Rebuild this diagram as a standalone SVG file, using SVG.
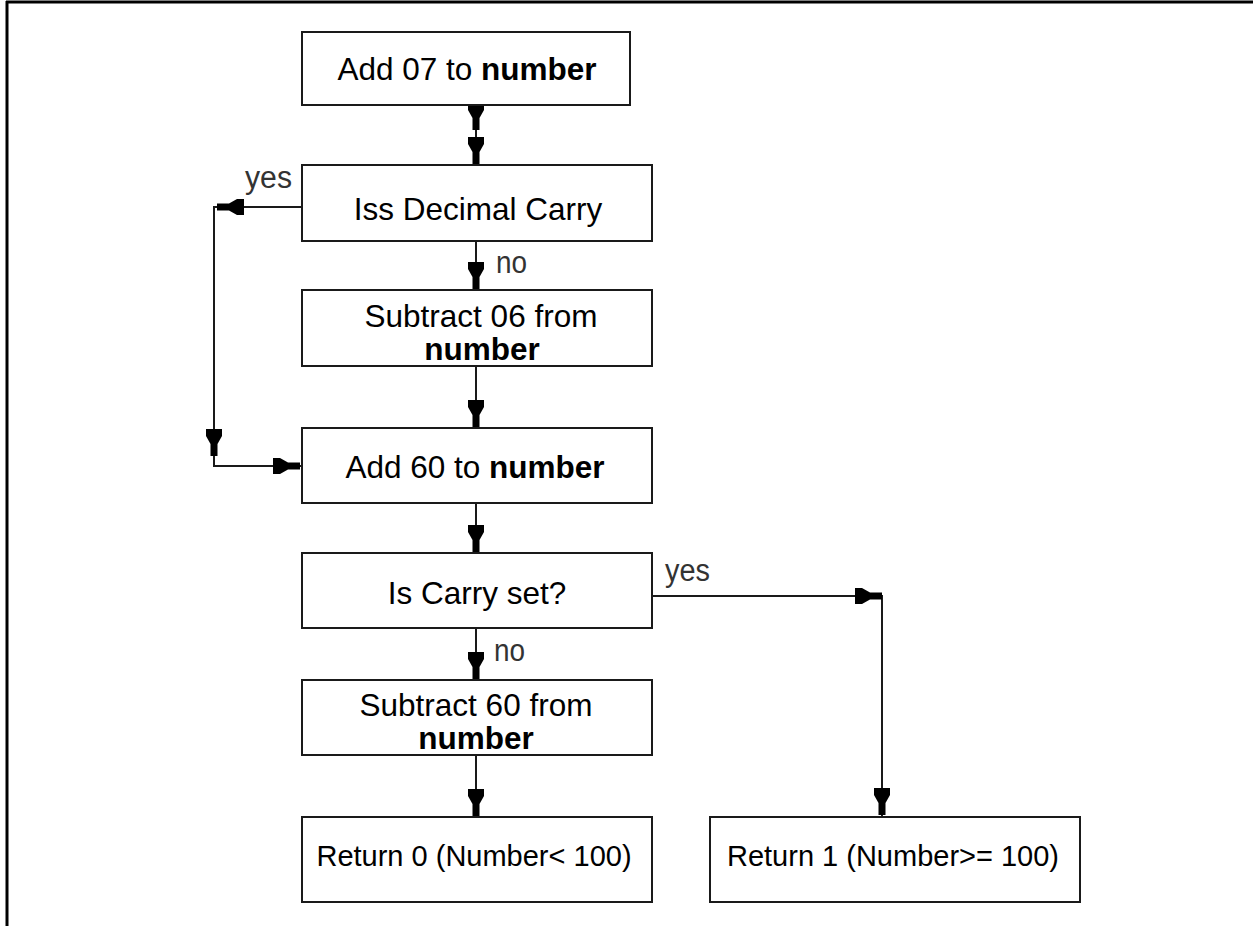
<svg xmlns="http://www.w3.org/2000/svg" xmlns:xlink="http://www.w3.org/1999/xlink" width="1253" height="926" viewBox="0 0 1253 926">
<style>
.box{fill:#fff;stroke:#1a1a1a;stroke-width:2}
.t{font-family:"Liberation Sans",Arial,sans-serif;font-size:31.5px;fill:#000;text-anchor:middle}
.r{font-family:"Liberation Sans",Arial,sans-serif;font-size:29px;fill:#000;text-anchor:middle}
.b{font-weight:bold}
.lbl{font-family:"Liberation Sans",Arial,sans-serif;font-size:31px;fill:#333}
.conn{fill:none;stroke:#1a1a1a;stroke-width:2}
.ah{fill:#000}
</style>
<defs>
<path id="ah" class="ah" d="M -27 -8 L -20 -8 L -12 -3.5 L 0 -3.5 L 0 3.5 L -12 3.5 L -20 8 L -27 8 Z"/>
</defs>
<rect x="0" y="0" width="1253" height="926" fill="#fff"/>
<g id="frame">
<line x1="6" y1="2" x2="1253" y2="2" stroke="#000" stroke-width="3"/>
<line x1="7" y1="1" x2="7" y2="926" stroke="#000" stroke-width="3"/>
</g>
<g id="connectors">
<path class="conn" d="M476,105 V165"/>
<path class="conn" d="M476,241 V290"/>
<path class="conn" d="M476,366 V428"/>
<path class="conn" d="M476,503 V553"/>
<path class="conn" d="M476,628 V680"/>
<path class="conn" d="M476,755 V817"/>
<path class="conn" d="M302,207 H214 V466 H302"/>
<path class="conn" d="M652,596 H882 V817"/>
<use xlink:href="#ah" transform="translate(476,130) rotate(90)"/>
<use xlink:href="#ah" transform="translate(476,164) rotate(90)"/>
<use xlink:href="#ah" transform="translate(476,289) rotate(90)"/>
<use xlink:href="#ah" transform="translate(476,427) rotate(90)"/>
<use xlink:href="#ah" transform="translate(476,552) rotate(90)"/>
<use xlink:href="#ah" transform="translate(476,679) rotate(90)"/>
<use xlink:href="#ah" transform="translate(476,816) rotate(90)"/>
<use xlink:href="#ah" transform="translate(217,207) rotate(180)"/>
<use xlink:href="#ah" transform="translate(214,456) rotate(90)"/>
<use xlink:href="#ah" transform="translate(300,466)"/>
<use xlink:href="#ah" transform="translate(882,596)"/>
<use xlink:href="#ah" transform="translate(882,815) rotate(90)"/>
<text class="lbl" x="245" y="188" textLength="47" lengthAdjust="spacingAndGlyphs">yes</text>
<text class="lbl" x="496" y="273" textLength="31" lengthAdjust="spacingAndGlyphs">no</text>
<text class="lbl" x="665" y="581" textLength="45" lengthAdjust="spacingAndGlyphs">yes</text>
<text class="lbl" x="494" y="661" textLength="31" lengthAdjust="spacingAndGlyphs">no</text>
</g>
<g id="n1">
<rect class="box" x="302" y="32" width="328" height="73"/>
<text class="t" x="467" y="80">Add 07 to <tspan class="b">number</tspan></text>
</g>
<g id="n2">
<rect class="box" x="302" y="165" width="350" height="76"/>
<text class="t" x="478" y="220">Iss Decimal Carry</text>
</g>
<g id="n3">
<rect class="box" x="302" y="290" width="350" height="76"/>
<text class="t" x="481" y="327">Subtract 06 from</text>
<text class="t b" x="482" y="360">number</text>
</g>
<g id="n4">
<rect class="box" x="302" y="428" width="350" height="75"/>
<text class="t" x="475" y="478">Add 60 to <tspan class="b">number</tspan></text>
</g>
<g id="n5">
<rect class="box" x="302" y="553" width="350" height="75"/>
<text class="t" x="477" y="604">Is Carry set?</text>
</g>
<g id="n6">
<rect class="box" x="302" y="680" width="350" height="75"/>
<text class="t" x="476" y="716">Subtract 60 from</text>
<text class="t b" x="476" y="749">number</text>
</g>
<g id="n7">
<rect class="box" x="302" y="817" width="350" height="85"/>
<text class="r" x="474" y="866">Return 0 (Number&lt; 100)</text>
</g>
<g id="n8">
<rect class="box" x="710" y="817" width="370" height="85"/>
<text class="r" x="893" y="866">Return 1 (Number&gt;= 100)</text>
</g>
</svg>
